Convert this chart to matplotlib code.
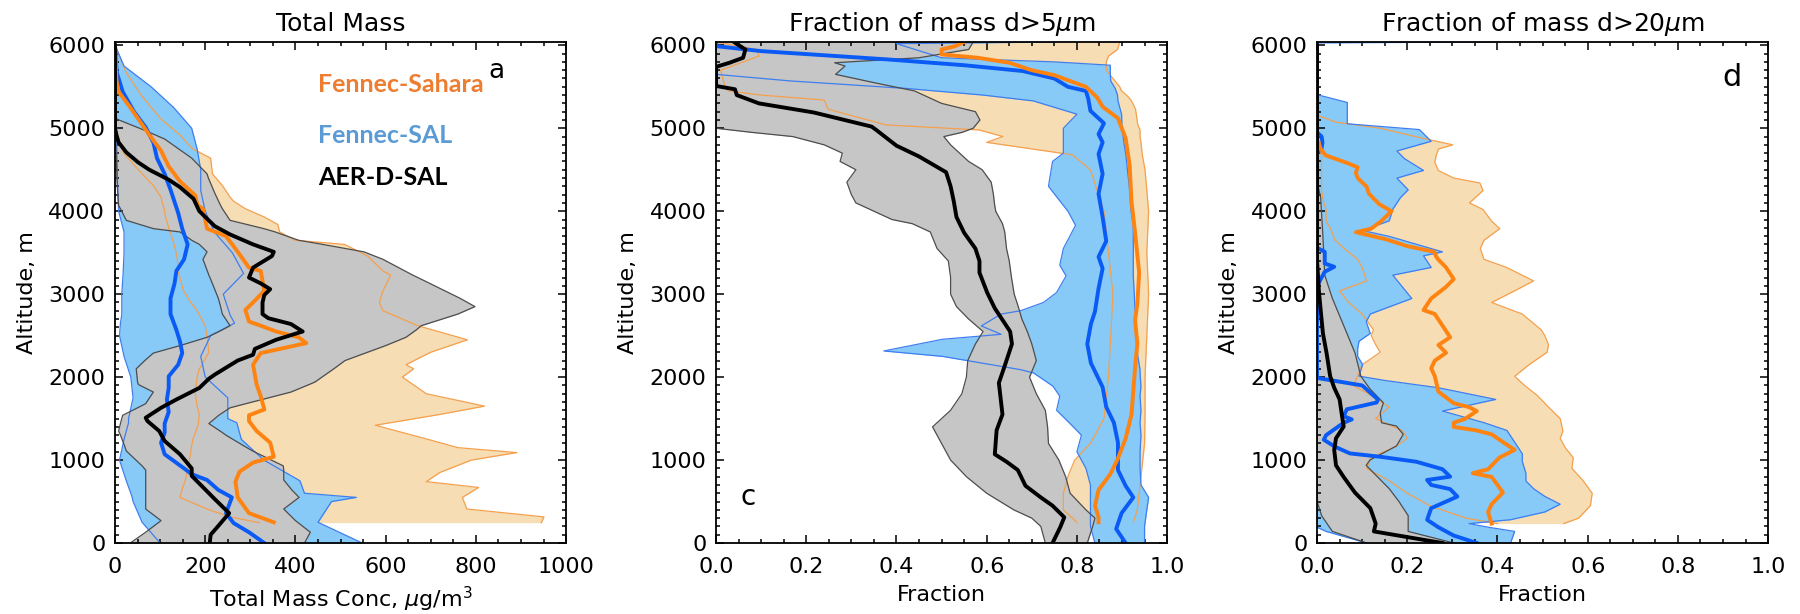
import matplotlib
matplotlib.use("Agg")
import matplotlib.pyplot as plt
from matplotlib.ticker import MultipleLocator, FormatStrFormatter

plt.rcParams['font.family'] = ['DejaVu Sans']

# ---------------- Panel a : Total mass ----------------
# orange band (Fennec-Sahara)
a_or_alt = [245, 315, 410, 550, 670, 740, 850, 1000, 1090, 1150, 1255, 1420, 1550, 1650, 1800, 2000,
            2100, 2150, 2300, 2450, 2620, 2800, 2900, 3040, 3230, 3280, 3460, 3600, 3650, 3750, 3840,
            3930, 4030, 4120, 4170, 4310, 4450, 4640, 4710, 4760, 4920, 5110, 5390, 5670, 5950, 6000]
a_or_lo = [320, 255, 204, 144, 150, 155, 160, 165, 168, 169, 173, 184, 187, 182, 178, 182, 187, 193,
           208, 205, 200, 182, 168, 152, 142, 141, 137, 131, 128, 122, 117, 112, 109, 104, 102, 85,
           60, 29, 18, 15, 6, 0, 0, 0, 0, 0]
a_or_hi = [945, 951, 780, 770, 806, 690, 720, 790, 891, 760, 690, 577, 720, 819, 690, 637, 662, 645,
           700, 781, 671, 594, 586, 594, 611, 594, 560, 509, 399, 365, 361, 331, 289, 263, 255, 238,
           216, 212, 187, 170, 144, 102, 59, 25, 4, 0]
# blue band (Fennec-SAL)
a_bl_alt = [0, 250, 500, 550, 600, 750, 1000, 1250, 1450, 1500, 1750, 2000, 2250, 2500, 2650, 2750,
            3000, 3250, 3500, 3750, 4000, 4250, 4500, 4750, 5000, 5250, 5500, 5750, 6000]
a_bl_lo = [100, 60, 40, 38, 35, 25, 10, 20, 30, 30, 40, 35, 20, 10, 12, 15, 15, 18, 20, 20, 8, 6, 5,
           4, 3, 2, 1, 0, 0]
a_bl_hi = [548, 450, 480, 535, 420, 410, 330, 280, 270, 250, 250, 200, 190, 212, 265, 255, 240, 285,
           260, 220, 200, 190, 190, 182, 170, 130, 80, 20, 0]
# grey band (AER-D-SAL)
a_gr_alt = [0, 130, 270, 410, 550, 640, 760, 880, 930, 1110, 1160, 1300, 1350, 1440, 1540, 1630, 1680,
            1730, 1820, 1910, 1940, 2100, 2200, 2290, 2380, 2480, 2570, 2620, 2760, 2850, 2950, 3180,
            3230, 3420, 3510, 3600, 3650, 3750, 3790, 3890, 4030, 4070, 4220, 4400, 4450, 4640, 4870,
            4970, 5110, 5200]
a_gr_lo = [34, 68, 102, 68, 68, 68, 68, 68, 60, 25, 22, 12, 8, 12, 17, 50, 68, 74, 85, 52, 50, 47, 66,
           85, 144, 204, 238, 255, 238, 234, 229, 212, 208, 195, 204, 187, 170, 144, 85, 25, 12, 8, 6,
           4, 4, 3, 1, 0, 0, 0]
a_gr_hi = [420, 433, 400, 374, 408, 392, 374, 374, 373, 305, 289, 246, 233, 208, 230, 255, 290, 326,
           390, 430, 443, 485, 510, 555, 600, 645, 668, 679, 760, 798, 765, 679, 660, 594, 552, 460,
           407, 355, 330, 255, 238, 234, 221, 207, 204, 170, 110, 68, 4, 0]
# medians
a_bk_alt = [0, 100, 200, 360, 530, 810, 900, 1070, 1230, 1350, 1470, 1510, 1630, 1730, 1870, 1980,
            2030, 2200, 2270, 2340, 2450, 2550, 2640, 2710, 2760, 2900, 2990, 3060, 3130, 3200, 3320,
            3460, 3510, 3600, 3720, 3820, 4000, 4150, 4290, 4380, 4500, 4590, 4710, 4830, 4920, 5000, 6000]
a_bk_x = [210, 212, 228, 253, 221, 170, 170, 144, 110, 98, 72, 68, 102, 136, 187, 208, 221, 272, 306,
          310, 357, 416, 390, 340, 327, 327, 331, 344, 323, 297, 306, 348, 352, 306, 255, 221, 187, 174,
          144, 119, 76, 51, 25, 8, 3, 0, 0]
a_bm_alt = [0, 130, 240, 360, 550, 640, 760, 830, 900, 1070, 1210, 1330, 1440, 1580, 1730, 1870, 2010,
            2150, 2290, 2430, 2570, 2760, 2950, 3130, 3280, 3420, 3600, 3790, 3980, 4260, 4450, 4640,
            4830, 5010, 5200, 5440, 5670, 5810, 6000]
a_bm_x = [331, 297, 263, 246, 259, 229, 204, 170, 153, 110, 102, 110, 110, 119, 115, 119, 119, 140,
          149, 144, 136, 123, 123, 132, 136, 153, 161, 149, 140, 123, 110, 93, 85, 68, 42, 17, 4, 2, 0]
a_om_alt = [250, 360, 550, 740, 860, 970, 1040, 1210, 1350, 1470, 1540, 1610, 1770, 1910, 2150, 2290,
            2410, 2480, 2550, 2620, 2670, 2810, 2900, 3040, 3160, 3280, 3320, 3510, 3700, 3790, 4030,
            4070, 4190, 4360, 4540, 4730, 4920, 5250, 5440, 5580, 6000]
a_om_x = [352, 297, 272, 267, 276, 306, 352, 344, 314, 297, 297, 331, 323, 314, 306, 323, 424, 407,
          357, 323, 297, 289, 306, 331, 327, 323, 297, 272, 246, 204, 195, 183, 178, 144, 119, 102, 76,
          34, 8, 3, 0]

# ---------------- Panel c : fraction d > 5 um ----------------
c_or_alt = [250, 400, 600, 800, 1000, 1200, 1500, 2000, 2500, 3000, 3500, 4000, 4500, 4680, 4830, 4900,
            4980, 5040, 5230, 5340, 5400, 5450, 5500, 5700, 5800, 5870, 5950, 6040]
c_or_lo = [0.80, 0.77, 0.77, 0.78, 0.795, 0.83, 0.86, 0.87, 0.875, 0.88, 0.87, 0.86, 0.83, 0.79, 0.60,
           0.636, 0.583, 0.377, 0.248, 0.24, 0.10, 0.027, 0.02, 0.01, 0.06, 0.095, 0.09, 0.0]
c_or_hi = [0.925, 0.934, 0.938, 0.942, 0.946, 0.95, 0.951, 0.951, 0.955, 0.959, 0.955, 0.959, 0.951,
           0.945, 0.942, 0.94, 0.94, 0.935, 0.93, 0.92, 0.91, 0.899, 0.895, 0.865, 0.865, 0.87, 0.89, 0.895]
c_bl_alt = [0, 200, 400, 550, 700, 900, 1100, 1300, 1450, 1600, 1770, 1890, 2050, 2090, 2250, 2315, 2456,
            2516, 2617, 2760, 2800, 2900, 3020, 3220, 3350, 3550, 3830, 4000, 4300, 4600, 4700, 4800,
            5000, 5170, 5330, 5400, 5480, 5570, 5650, 5700, 5760, 5800, 5850, 6020, 6040]
c_bl_lo = [0.84, 0.83, 0.83, 0.83, 0.83, 0.82, 0.80, 0.81, 0.783, 0.755, 0.762, 0.747, 0.704, 0.675,
           0.502, 0.372, 0.502, 0.632, 0.588, 0.632, 0.675, 0.726, 0.755, 0.776, 0.762, 0.77, 0.797, 0.78,
           0.737, 0.746, 0.77, 0.77, 0.77, 0.80, 0.703, 0.592, 0.422, 0.166, 0.0, 0.0, 0.0, 0.0, 0.0,
           0.0, 0.0]
c_bl_hi = [0.95, 0.95, 0.955, 0.959, 0.942, 0.94, 0.94, 0.942, 0.94, 0.942, 0.94, 0.942, 0.94, 0.94,
           0.935, 0.934, 0.933, 0.932, 0.93, 0.93, 0.929, 0.928, 0.927, 0.925, 0.925, 0.925, 0.925, 0.92,
           0.916, 0.91, 0.908, 0.905, 0.90, 0.899, 0.891, 0.89, 0.885, 0.875, 0.874, 0.874, 0.874, 0.75,
           0.50, 0.40, 0.75]
c_gr_alt = [0, 200, 300, 400, 600, 800, 1000, 1200, 1400, 1600, 1800, 2000, 2200, 2400, 2550, 2700,
            2850, 3000, 3200, 3400, 3550, 3750, 3850, 3900, 4000, 4100, 4200, 4350, 4500, 4600, 4700,
            4800, 4900, 4950, 5000, 5100, 5200, 5300, 5450, 5550, 5650, 5750, 5790, 5850, 5950, 6040]
c_gr_lo = [0.73, 0.72, 0.70, 0.66, 0.60, 0.555, 0.52, 0.50, 0.48, 0.52, 0.545, 0.555, 0.558, 0.575,
           0.592, 0.56, 0.533, 0.52, 0.52, 0.515, 0.49, 0.475, 0.435, 0.39, 0.35, 0.31, 0.30, 0.29, 0.31,
           0.275, 0.28, 0.24, 0.17, 0.08, 0.0, 0.0, 0.0, 0.0, 0.0, 0.0, 0.0, 0.0, 0.0, 0.0, 0.0, 0.0]
c_gr_hi = [0.823, 0.835, 0.84, 0.82, 0.785, 0.775, 0.76, 0.737, 0.735, 0.73, 0.71, 0.695, 0.71, 0.70,
           0.69, 0.678, 0.67, 0.661, 0.655, 0.65, 0.644, 0.64, 0.635, 0.63, 0.62, 0.617, 0.615, 0.61,
           0.59, 0.56, 0.54, 0.52, 0.505, 0.545, 0.57, 0.585, 0.575, 0.50, 0.44, 0.35, 0.265, 0.286,
           0.263, 0.45, 0.56, 0.57]
c_bk_alt = [0, 190, 310, 450, 550, 690, 880, 980, 1070, 1360, 1550, 1740, 1930, 2120, 2400, 2550, 2690,
            2830, 3020, 3260, 3400, 3550, 3740, 3930, 4120, 4300, 4470, 4660, 4790, 4980, 5020, 5190,
            5300, 5400, 5470, 5510, 5740, 5790, 5850, 5950, 6020, 6040]
c_bk_x = [0.746, 0.763, 0.772, 0.746, 0.72, 0.686, 0.669, 0.644, 0.618, 0.622, 0.635, 0.631, 0.627,
          0.639, 0.656, 0.652, 0.635, 0.618, 0.601, 0.584, 0.584, 0.575, 0.55, 0.533, 0.527, 0.52, 0.51,
          0.45, 0.40, 0.355, 0.345, 0.217, 0.095, 0.046, 0.042, 0.0, 0.0, 0.03, 0.06, 0.065, 0.045, 0.04]
c_bm_alt = [0, 170, 360, 550, 690, 880, 1210, 1450, 1640, 1880, 2170, 2400, 2640, 2790, 3070, 3310,
            3450, 3640, 3930, 4210, 4450, 4690, 4830, 4930, 5060, 5210, 5360, 5450, 5500, 5600, 5690,
            5760, 5830, 5930, 5990, 6040]
c_bm_x = [0.908, 0.887, 0.899, 0.925, 0.908, 0.891, 0.891, 0.882, 0.865, 0.857, 0.831, 0.823, 0.831,
          0.84, 0.848, 0.857, 0.848, 0.865, 0.857, 0.848, 0.857, 0.848, 0.857, 0.848, 0.86, 0.83, 0.825,
          0.82, 0.78, 0.75, 0.68, 0.55, 0.38, 0.10, 0.0, 0.0]
c_om_alt = [250, 310, 450, 640, 830, 1020, 1260, 1550, 1830, 2120, 2400, 2690, 2880, 3260, 3740, 4120,
            4550, 4880, 5120, 5260, 5370, 5500, 5640, 5700, 5790, 5850, 5890, 5950, 5990, 6040]
c_om_x = [0.848, 0.848, 0.84, 0.848, 0.874, 0.891, 0.908, 0.921, 0.925, 0.929, 0.934, 0.929, 0.934,
          0.938, 0.929, 0.921, 0.917, 0.908, 0.891, 0.857, 0.845, 0.82, 0.75, 0.70, 0.65, 0.58, 0.50,
          0.50, 0.53, 0.55]

# ---------------- Panel d : fraction d > 20 um ----------------
d_or_alt = [234, 300, 450, 600, 750, 900, 1030, 1150, 1260, 1350, 1500, 1640, 1780, 1900, 2010, 2150,
            2300, 2390, 2500, 2570, 2760, 2900, 3040, 3160, 3320, 3420, 3550, 3650, 3790, 3880, 4020,
            4100, 4250, 4340, 4400, 4490, 4590, 4670, 4750, 4800, 4880, 5000, 5074, 5137, 5160]
d_or_lo = [0.40, 0.33, 0.25, 0.20, 0.16, 0.11, 0.12, 0.17, 0.20, 0.19, 0.13, 0.16, 0.12, 0.08, 0.09,
           0.10, 0.14, 0.13, 0.12, 0.125, 0.10, 0.07, 0.05, 0.11, 0.10, 0.09, 0.06, 0.04, 0.03, 0.02,
           0.02, 0.015, 0.01, 0.01, 0.01, 0.01, 0.01, 0.01, 0.005, 0.0, 0.0, 0.0, 0.0, 0.0, 0.0]
d_or_hi = [0.547, 0.58, 0.606, 0.61, 0.59, 0.565, 0.568, 0.55, 0.539, 0.545, 0.539, 0.513, 0.488, 0.46,
           0.438, 0.47, 0.51, 0.513, 0.505, 0.497, 0.455, 0.387, 0.438, 0.48, 0.421, 0.37, 0.362, 0.37,
           0.405, 0.387, 0.368, 0.338, 0.368, 0.361, 0.303, 0.269, 0.261, 0.264, 0.269, 0.301, 0.234,
           0.14, 0.041, 0.01, 0.0]
d_bl_alt = [0, 140, 190, 234, 281, 374, 468, 562, 655, 749, 842, 983, 1076, 1200, 1357, 1451, 1591,
            1731, 1872, 1960, 2012, 2153, 2250, 2340, 2433, 2527, 2667, 2761, 2948, 3229, 3322, 3463,
            3510, 3697, 3767, 3884, 4024, 4165, 4258, 4399, 4492, 4633, 4726, 4843, 4984, 5054, 5311,
            5405, 5450, 6030, 6040]
d_bl_lo = [0.11, 0.02, 0.0, 0.0, 0.0, 0.0, 0.0, 0.0, 0.0, 0.0, 0.0, 0.0, 0.0, 0.0, 0.0, 0.0, 0.0, 0.0,
           0.0, 0.0, 0.0, 0.0, 0.0, 0.0, 0.0, 0.0, 0.0, 0.0, 0.0, 0.0, 0.0, 0.0, 0.0, 0.0, 0.0, 0.0,
           0.0, 0.0, 0.0, 0.0, 0.0, 0.0, 0.0, 0.0, 0.0, 0.0, 0.0, 0.0, 0.0, 0.0, 0.0]
d_bl_hi = [0.429, 0.438, 0.38, 0.337, 0.429, 0.505, 0.539, 0.505, 0.48, 0.463, 0.463, 0.455, 0.455,
           0.44, 0.421, 0.37, 0.278, 0.396, 0.269, 0.15, 0.093, 0.101, 0.09, 0.09, 0.093, 0.118, 0.109,
           0.118, 0.21, 0.168, 0.253, 0.236, 0.278, 0.16, 0.101, 0.16, 0.168, 0.185, 0.202, 0.177,
           0.236, 0.194, 0.177, 0.253, 0.227, 0.067, 0.067, 0.0, 0.0, 0.0, 0.40]
d_gr_alt = [0, 140, 330, 470, 490, 655, 936, 1000, 1170, 1310, 1410, 1450, 1570, 1690, 1860, 2012, 2293,
            2621, 2948, 3229, 3697, 4165, 4258, 4350]
d_gr_lo = [0.11, 0.034, 0.01, 0.002, 0.0, 0.0, 0.0, 0.0, 0.0, 0.0, 0.0, 0.0, 0.0, 0.0, 0.0, 0.0, 0.0,
           0.0, 0.0, 0.0, 0.0, 0.0, 0.0, 0.0]
d_gr_hi = [0.303, 0.202, 0.202, 0.185, 0.183, 0.16, 0.109, 0.117, 0.176, 0.191, 0.176, 0.143, 0.14,
           0.147, 0.117, 0.097, 0.084, 0.059, 0.034, 0.017, 0.013, 0.008, 0.004, 0.0]
d_bk_alt = [0, 140, 234, 421, 608, 796, 936, 1123, 1263, 1404, 1544, 1731, 1872, 2012, 2293, 2527, 2808,
            3042, 3229, 3400, 6000]
d_bk_x = [0.278, 0.126, 0.13, 0.118, 0.084, 0.059, 0.042, 0.038, 0.042, 0.059, 0.055, 0.05, 0.038,
          0.029, 0.021, 0.013, 0.008, 0.004, 0.002, 0.0, 0.0]
d_bm_alt = [0, 90, 190, 280, 420, 560, 650, 700, 760, 800, 890, 980, 1040, 1080, 1160, 1245, 1300, 1450,
            1490, 1530, 1612, 1694, 1730, 1900, 1990, 3100, 3200, 3270, 3330, 3370, 3510, 3560, 4700,
            4760, 4830, 4900, 4950, 6000]
d_bm_x = [0.354, 0.303, 0.269, 0.244, 0.253, 0.311, 0.295, 0.253, 0.244, 0.295, 0.278, 0.22, 0.14,
          0.073, 0.04, 0.015, 0.02, 0.059, 0.077, 0.059, 0.066, 0.132, 0.135, 0.10, 0.0, 0.0, 0.01,
          0.017, 0.038, 0.017, 0.017, 0.0, 0.0, 0.01, 0.012, 0.01, 0.0, 0.0]
d_om_alt = [234, 374, 468, 608, 700, 796, 842, 889, 1029, 1123, 1217, 1310, 1357, 1400, 1451, 1497, 1591,
            1638, 1685, 1825, 2012, 2106, 2199, 2293, 2387, 2480, 2621, 2761, 2808, 2948, 3088, 3182,
            3322, 3416, 3453, 3510, 3579, 3663, 3747, 3790, 3884, 4000, 4084, 4211, 4295, 4400, 4463,
            4530, 4589, 4674, 4750, 4821]
d_om_x = [0.387, 0.379, 0.387, 0.412, 0.40, 0.387, 0.345, 0.379, 0.404, 0.438, 0.412, 0.387, 0.354,
          0.303, 0.303, 0.328, 0.354, 0.337, 0.303, 0.269, 0.261, 0.253, 0.261, 0.286, 0.269, 0.295,
          0.278, 0.261, 0.236, 0.253, 0.286, 0.303, 0.286, 0.269, 0.264, 0.26, 0.20, 0.152, 0.086, 0.12,
          0.143, 0.165, 0.138, 0.115, 0.11, 0.09, 0.086, 0.09, 0.063, 0.019, 0.008, 0.004]

# colours
OR_FILL, BL_FILL, GR_FILL = '#F6DDB3', '#87C9F7', '#C6C6C6'
OR_EDGE, BL_EDGE, GR_EDGE = '#F5A04D', '#3D7EF0', '#4d4d4d'
OR_MED, BL_MED, BK_MED = '#FF8310', '#0A5AF5', 'black'


def draw_panel(ax, bands, medians):
    # fills first (orange, blue, grey), then thin edges, then thick medians
    for alt, lo, hi, fc, ec in bands:
        ax.fill_betweenx(alt, lo, hi, color=fc, lw=0, zorder=1)
    for alt, lo, hi, fc, ec in bands:
        ax.plot(lo, alt, color=ec, lw=0.9, zorder=4)
        ax.plot(hi, alt, color=ec, lw=0.9, zorder=4)
    for alt, x, c in medians:
        ax.plot(x, alt, color=c, lw=2.8, zorder=5)


def style(ax, xmax, xmaj, xmin, title, xlabel):
    ax.set_xlim(0, xmax)
    ax.set_ylim(0, 6040)
    ax.xaxis.set_major_locator(MultipleLocator(xmaj))
    ax.xaxis.set_minor_locator(MultipleLocator(xmin))
    ax.yaxis.set_major_locator(MultipleLocator(1000))
    ax.yaxis.set_minor_locator(MultipleLocator(100))
    ax.tick_params(which='both', direction='in', top=True, right=True, width=1.1, labelsize=16)
    ax.tick_params(which='major', length=6)
    ax.tick_params(which='minor', length=3)
    ax.tick_params(axis='x', pad=10)
    ax.tick_params(axis='y', pad=7)
    for s in ax.spines.values():
        s.set_linewidth(1.3)
        s.set_zorder(10)
    ax.set_title(title, fontsize=18, pad=8)
    ax.set_xlabel(xlabel, fontsize=16, labelpad=6)
    ax.set_ylabel('Altitude, m', fontsize=16, labelpad=8)


fig = plt.figure(figsize=(18, 6.14), dpi=100)
ax_a = fig.add_axes([0.0639, 0.1156, 0.2506, 0.816])
ax_c = fig.add_axes([0.3978, 0.1156, 0.2506, 0.816])
ax_d = fig.add_axes([0.7317, 0.1156, 0.2506, 0.816])

draw_panel(ax_a,
           [(a_or_alt, a_or_lo, a_or_hi, OR_FILL, OR_EDGE),
            (a_bl_alt, a_bl_lo, a_bl_hi, BL_FILL, BL_EDGE),
            (a_gr_alt, a_gr_lo, a_gr_hi, GR_FILL, GR_EDGE)],
           [(a_bm_alt, a_bm_x, BL_MED), (a_om_alt, a_om_x, OR_MED), (a_bk_alt, a_bk_x, BK_MED)])
style(ax_a, 1000, 200, 50, 'Total Mass', r'Total Mass Conc, $\mu$g/m$^3$')

draw_panel(ax_c,
           [(c_or_alt, c_or_lo, c_or_hi, OR_FILL, OR_EDGE),
            (c_bl_alt, c_bl_lo, c_bl_hi, BL_FILL, BL_EDGE),
            (c_gr_alt, c_gr_lo, c_gr_hi, GR_FILL, GR_EDGE)],
           [(c_bm_alt, c_bm_x, BL_MED), (c_om_alt, c_om_x, OR_MED), (c_bk_alt, c_bk_x, BK_MED)])
style(ax_c, 1.0, 0.2, 0.05, r'Fraction of mass d>5$\mu$m', 'Fraction')

draw_panel(ax_d,
           [(d_or_alt, d_or_lo, d_or_hi, OR_FILL, OR_EDGE),
            (d_bl_alt, d_bl_lo, d_bl_hi, BL_FILL, BL_EDGE),
            (d_gr_alt, d_gr_lo, d_gr_hi, GR_FILL, GR_EDGE)],
           [(d_bm_alt, d_bm_x, BL_MED), (d_om_alt, d_om_x, OR_MED), (d_bk_alt, d_bk_x, BK_MED)])
style(ax_d, 1.0, 0.2, 0.05, r'Fraction of mass d>20$\mu$m', 'Fraction')

for ax in (ax_c, ax_d):
    ax.xaxis.set_major_formatter(FormatStrFormatter('%.1f'))

# legend text and panel letters
leg_font = ['Lato', 'DejaVu Sans']
ax_a.text(450, 5530, 'Fennec-Sahara', color='#ED7D31', fontsize=18, fontweight='bold',
          family=leg_font, va='center', zorder=6)
ax_a.text(450, 4910, 'Fennec-SAL', color='#5B9BD5', fontsize=18, fontweight='bold',
          family=leg_font, va='center', zorder=6)
ax_a.text(450, 4410, 'AER-D-SAL', color='black', fontsize=18, fontweight='bold',
          family=leg_font, va='center', zorder=6)
ax_a.text(845, 5690, 'a', fontsize=19, va='center', ha='center', zorder=6)
ax_c.text(0.072, 557, 'c', fontsize=20, va='center', ha='center', zorder=6)
ax_d.text(0.92, 5614, 'd', fontsize=22, va='center', ha='center', zorder=6)

fig.savefig('out.png', dpi=100)
